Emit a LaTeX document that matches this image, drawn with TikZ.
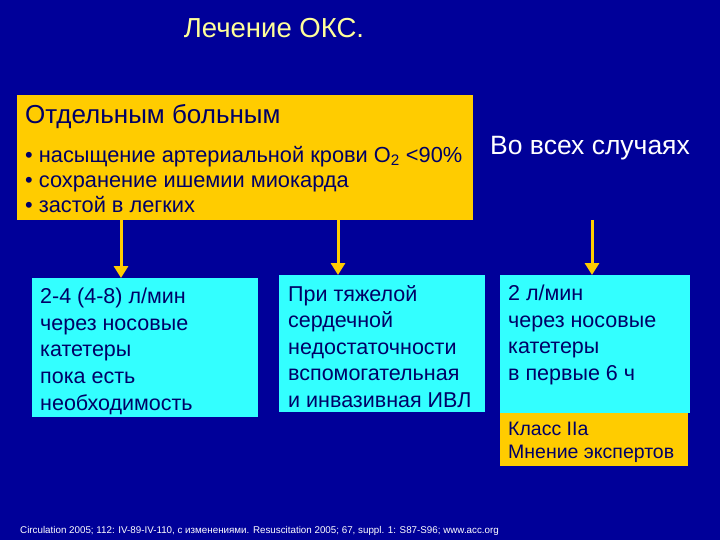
\documentclass[tikz,border=0pt]{standalone}
\usepackage{fontspec}
\setmainfont{Liberation Sans}
\usetikzlibrary{arrows.meta}
\definecolor{bg}{HTML}{000099}
\definecolor{ybox}{HTML}{FFCC00}
\definecolor{cbox}{HTML}{33FFFF}
\definecolor{ink}{HTML}{000066}
\definecolor{ttl}{HTML}{FFFF99}
\begin{document}
\begin{tikzpicture}[x=1pt,y=-1pt,
  yrect/.style={fill=ybox,draw=none,anchor=north west,inner sep=0,outer sep=0},
  crect/.style={fill=cbox,draw=none,anchor=north west,inner sep=0,outer sep=0},
  btxt/.style={anchor=north west,inner sep=0,align=left,text=ink,font=\fontsize{21.5}{26.6}\selectfont},
  arr/.style={draw=ybox,line width=3pt,-{Triangle[length=12pt,width=14pt]}}]
\fill[bg] (0,0) rectangle (720,540);
\useasboundingbox (0,0) rectangle (720,540);
\node[anchor=base,text=ttl,font=\fontsize{27.5}{30}\selectfont,inner sep=0] (title) at (274,38) {Лечение ОКС.};
% top yellow box
\node[yrect,minimum width=456,minimum height=125] (top) at (17,95) {};
\node[anchor=base west,inner sep=0,text=ink,font=\fontsize{26}{28}\selectfont] (toph) at (25,124) {Отдельным больным};
\node[anchor=north west,inner sep=0,align=left,text=ink,font=\fontsize{21.8}{25}\selectfont] (topl) at (25,146)
  {• насыщение артериальной крови O\textsubscript{2} <90\%\\
   • сохранение ишемии миокарда\\
   • застой в легких};
\node[anchor=base west,inner sep=0,text=white,font=\fontsize{26.5}{28}\selectfont] (all) at (490,155) {Во всех случаях};
% cyan boxes
\node[crect,minimum width=226,minimum height=139] (c1) at (32,278) {};
\node[btxt] (t1) at (40,288) {2-4 (4-8) л/мин\\через носовые\\катетеры\\пока есть\\необходимость};
\node[crect,minimum width=206,minimum height=137] (c2) at (279,275) {};
\node[btxt] (t2) at (288,285) {При тяжелой\\сердечной\\недостаточности\\вспомогательная\\и инвазивная ИВЛ};
\node[crect,minimum width=190,minimum height=138] (c3) at (500,275) {};
\node[btxt] (t3) at (508,285) {2 л/мин\\через носовые\\катетеры\\в первые 6 ч};
\node[yrect,minimum width=188,minimum height=53] (c4) at (500,413) {};
\node[anchor=north west,inner sep=0,align=left,text=ink,font=\fontsize{19.5}{23}\selectfont] (t4) at (508,422) {Класс IIa\\Мнение экспертов};
% arrows
\coordinate (a3) at (592,220);
\draw[arr] (top.south -| 121,0) -- (c1.north -| 121,0);
\draw[arr] (top.south -| 338,0) -- (c2.north -| 338,0);
\draw[arr] (a3) -- (c3.north -| a3);
% footer
\node[anchor=base west,inner sep=0,text=white,font=\fontsize{9.8}{10}\selectfont] (foot) at (20,533) {Circulation 2005; 112: IV-89-IV-110, с изменениями. Resuscitation 2005; 67, suppl. 1: S87-S96; www.acc.org};
\end{tikzpicture}
\end{document}
